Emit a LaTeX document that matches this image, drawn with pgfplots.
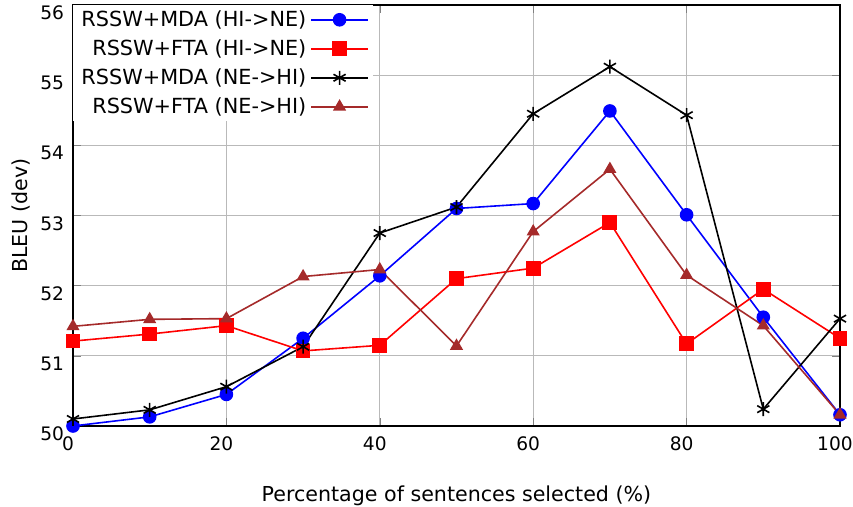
\documentclass[border=0pt]{standalone}
\usepackage{fontspec}
\setmainfont{DejaVu Sans}
\usepackage{pgfplots}
\pgfplotsset{compat=1.18}
\definecolor{brn}{RGB}{165,42,42}
\begin{document}
\begin{tikzpicture}
\begin{axis}[
  scale only axis,
  width=383.5pt, height=210.5pt,
  xmin=0, xmax=100, ymin=50, ymax=56,
  xtick={0,20,40,60,80,100},
  ytick={50,51,52,53,54,55,56},
  tick align=inside,
  major tick length=4pt,
  grid=major,
  major grid style={gray!55, line width=0.5pt},
  axis line style={line width=1pt},
  /pgf/number format/assume math mode=true,
  tick label style={font=\fontsize{9.3}{11}\selectfont},
  xticklabel style={xshift=-2.5pt, yshift=-2pt},
  yticklabel style={yshift=-4pt, xshift=-1pt},
  label style={font=\fontsize{10.3}{12}\selectfont},
  xlabel={Percentage of sentences selected (\%)},
  ylabel={BLEU (dev)},
  xlabel style={yshift=-10.5pt},
  ylabel style={yshift=-2pt},
  legend style={at={(0,1)}, anchor=north west, fill=white, draw=none,
    font=\fontsize{10.4}{12}\selectfont, row sep=1.1pt, inner xsep=2pt, inner ysep=0.5pt},
  legend plot pos=right,
  legend cell align=right,
  legend image code/.code={\draw[mark repeat=2,mark phase=2,#1] plot coordinates {(0cm,0cm) (0.5cm,0cm) (1cm,0cm)};},
]
\addplot[blue, line width=0.8pt, mark=*, mark size=3pt] coordinates {
(0,50.00) (10,50.13) (20,50.45) (30,51.25) (40,52.14) (50,53.10) (60,53.17) (70,54.49) (80,53.01) (90,51.55) (100,50.16)};
\addlegendentry{RSSW+MDA (HI->NE)}
\addplot[red, line width=0.8pt, mark=square*, mark size=3.3pt] coordinates {
(0,51.21) (10,51.31) (20,51.43) (30,51.07) (40,51.15) (50,52.10) (60,52.25) (70,52.90) (80,51.17) (90,51.95) (100,51.25)};
\addlegendentry{RSSW+FTA (HI->NE)}
\addplot[black, line width=0.8pt, mark=asterisk, mark size=3.5pt, mark options={line width=0.8pt}] coordinates {
(0,50.10) (10,50.23) (20,50.56) (30,51.13) (40,52.75) (50,53.12) (60,54.45) (70,55.12) (80,54.43) (90,50.24) (100,51.53)};
\addlegendentry{RSSW+MDA (NE->HI)}
\addplot[brn, line width=0.8pt, mark=triangle*, mark size=3pt] coordinates {
(0,51.42) (10,51.52) (20,51.53) (30,52.13) (40,52.23) (50,51.14) (60,52.77) (70,53.66) (80,52.15) (90,51.43) (100,50.16)};
\addlegendentry{RSSW+FTA (NE->HI)}
\end{axis}
\pgfresetboundingbox
\path ([xshift=-36.5pt,yshift=-40.5pt]current axis.south west) rectangle ([xshift=6.5pt,yshift=2.5pt]current axis.north east);
\end{tikzpicture}
\end{document}
